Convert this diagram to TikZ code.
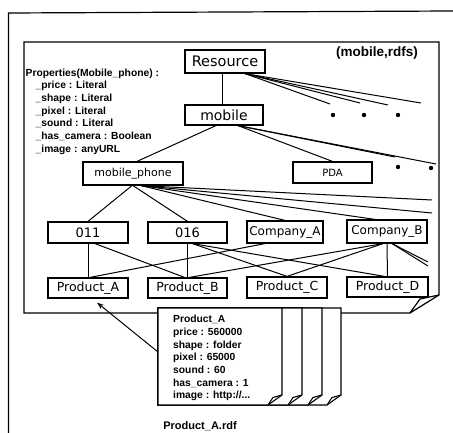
\documentclass[tikz,border=0pt]{standalone}
\usepackage{fontspec}
\setmainfont{Liberation Sans}
\newfontfamily\dejavu{DejaVu Sans}
\usetikzlibrary{arrows.meta}
\begin{document}
\begin{tikzpicture}[x=1pt,y=-1pt,
  cls/.style={draw, line width=1.2pt, inner sep=0pt, fill=white},
  lnk/.style={line width=1pt},
  frame/.style={line width=1.2pt},
  page/.style={fill=white, draw, line width=1.1pt},
  dot/.style={fill=black},
  bold/.style={inner sep=0pt, font=\bfseries\fontsize{#1}{12.7}\selectfont}
]
\useasboundingbox (0,0) rectangle (453,433);
% outer frame
\draw[frame] (8.5,433) -- (8.5,13) -- (453,11);
% inner rdfs page with folded corner
\draw[frame] (24,42) -- (439,42) -- (439,295) -- (410,313) -- (24,313) -- cycle;
\draw[frame] (439,295) -- (420,299) -- (410,313);

% class nodes
\node[cls, minimum width=80pt, minimum height=23pt, font=\dejavu\fontsize{14.5}{16}\selectfont] (res) at (225,61.5) {Resource};
\node[cls, minimum width=78pt, minimum height=20pt, font=\dejavu\fontsize{14}{16}\selectfont] (mob) at (224,115) {mobile};
\node[cls, minimum width=100pt, minimum height=23pt, font=\dejavu\fontsize{11}{13}\selectfont] (mp) at (133,173.5) {mobile\_phone};
\node[cls, minimum width=79pt, minimum height=21pt, font=\dejavu\fontsize{10}{12}\selectfont] (pda) at (332.5,172.5) {PDA};
\node[cls, minimum width=80pt, minimum height=21pt, font=\dejavu\fontsize{13}{14}\selectfont] (o11) at (88,232.5) {011};
\node[cls, minimum width=79pt, minimum height=21pt, font=\dejavu\fontsize{13}{14}\selectfont] (o16) at (187.5,232.5) {016};
\node[cls, minimum width=76pt, minimum height=22pt, font=\dejavu\fontsize{12}{14}\selectfont] (ca) at (285,232) {Company\_A};
\node[cls, minimum width=80pt, minimum height=23pt, font=\dejavu\fontsize{12}{14}\selectfont] (cb) at (387,231.5) {Company\_B};
\node[cls, minimum width=80pt, minimum height=20pt, font=\dejavu\fontsize{12.5}{14}\selectfont] (pa) at (88,288) {Product\_A};
\node[cls, minimum width=79pt, minimum height=20pt, font=\dejavu\fontsize{12.5}{14}\selectfont] (pb) at (187.5,288) {Product\_B};
\node[cls, minimum width=80pt, minimum height=21pt, font=\dejavu\fontsize{12.5}{14}\selectfont] (pc) at (287,287.5) {Product\_C};
\node[cls, minimum width=81pt, minimum height=20pt, font=\dejavu\fontsize{12.5}{14}\selectfont] (pd) at (387.5,287) {Product\_D};

% free ends of elided links
\coordinate (r1) at (330,104);
\coordinate (r2) at (360,103);
\coordinate (r3) at (388,105);
\coordinate (r4) at (421,103);
\coordinate (m1) at (395,157);
\coordinate (m2) at (436,164);
\coordinate (p1) at (432,200);
\coordinate (p2) at (432,213);
\coordinate (b1) at (428,262);
\coordinate (b2) at (428,266);

% links
\draw[lnk] ([xshift=-3pt]res.south) -- ([xshift=-2pt]mob.north);
\foreach \e in {r1,r2,r3,r4} \draw[lnk] ([xshift=20pt]res.south) -- (\e);
\draw[lnk] ([xshift=14pt]mob.south) -- (pda.north);
\foreach \e in {m1,m2} \draw[lnk] ([xshift=14pt]mob.south) -- (\e);
\draw[lnk] ([xshift=-8pt]mob.south) -- ([xshift=4pt]mp.north);
\draw[lnk] ([xshift=-1pt]mp.south) -- (o11.north);
\draw[lnk] (mp.south) -- (o16.north);
\draw[lnk] ([xshift=8pt]mp.south) -- (ca.north);
\draw[lnk] ([xshift=8pt]mp.south) -- ([xshift=-12pt]cb.north);
\foreach \e in {p1,p2} \draw[lnk] ([xshift=8pt]mp.south) -- (\e);

\draw[lnk] (o11.south) -- (pa.north);
\draw[lnk] ([xshift=7pt]o11.south) -- ([xshift=-3pt]pb.north);
\draw[lnk] (o16.south) -- (pb.north);
\draw[lnk] ([xshift=5pt]o16.south) -- (pc.north);
\draw[lnk] ([xshift=5pt]o16.south) -- ([xshift=-3pt]pd.north);
\draw[lnk] ([xshift=-20pt]ca.south) -- ([xshift=2pt]pa.north);
\draw[lnk] ([xshift=-4pt]cb.south) -- ([xshift=2pt]pb.north);
\draw[lnk] ([xshift=-4pt]cb.south) -- (pc.north);
\draw[lnk] (cb.south) -- (pd.north);
\foreach \e in {b1,b2} \draw[lnk] ([xshift=5pt]cb.south) -- (\e);

% elision dots
\foreach \p in {(333,115),(364,115),(398,115),(398,167),(431,168)}
  \fill[dot] \p circle (2.2pt);

% property list
\node[bold=10.3, anchor=north west, align=left] (props) at (25.5,68.5)
  {Properties(Mobile\_phone) :\\
   \hspace*{10pt}\_price : Literal\\
   \hspace*{10pt}\_shape : Literal\\
   \hspace*{10pt}\_pixel : Literal\\
   \hspace*{10pt}\_sound : Literal\\
   \hspace*{10pt}\_has\_camera : Boolean\\
   \hspace*{10pt}\_image : anyURL};
\node[bold=13.5] (title) at (377,53) {(mobile,rdfs)};

% stack of rdf documents
\foreach \R in {341,322,302,282} {
  \draw[page] (158,308) -- (\R,308) -- (\R,395) -- (\R-14,405) -- (158,405) -- cycle;
  \draw[line width=1.1pt] (\R,395) -- (\R-9,397.5) -- (\R-14,405);
}
\coordinate (docA) at (158,352);
\node[bold=10.3, anchor=north west, align=left] (doctext) at (173,315)
  {Product\_A\\
   price : 560000\\
   shape : folder\\
   pixel : 65000\\
   sound : 60\\
   has\_camera : 1\\
   image : http://...};
\draw[lnk, -{Stealth[length=7pt,width=5pt]}] (docA) -- ([xshift=9pt,yshift=-4pt]pa.south);
\node[bold=11] (rdf) at (200,426) {Product\_A.rdf};
\end{tikzpicture}
\end{document}
